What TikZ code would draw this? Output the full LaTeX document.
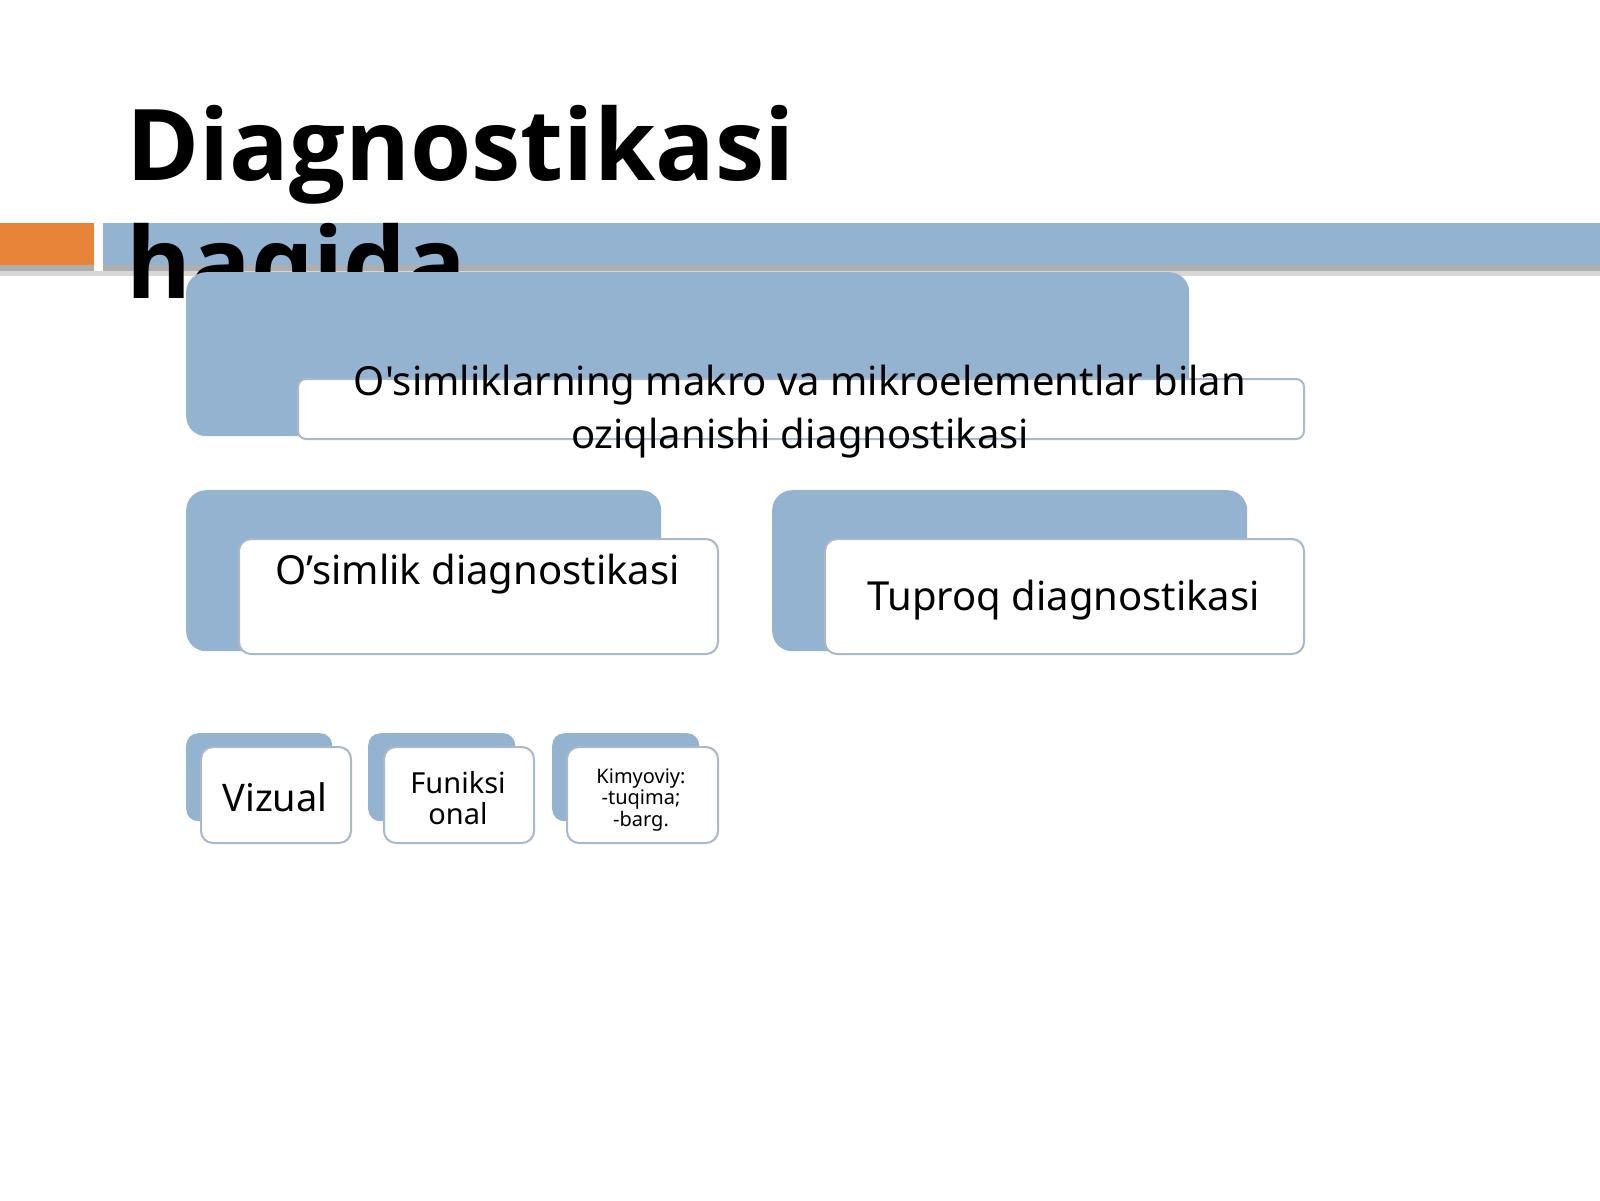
\documentclass[tikz,border=0pt]{standalone}
\usepackage{fontspec}
\setmainfont{Noto Sans}
\newfontfamily\nf{Noto Sans}
\newfontfamily\titlefont{Open Sans}
\definecolor{barblue}{RGB}{148,179,208}
\definecolor{barorange}{RGB}{232,131,58}
\definecolor{edgeblue}{RGB}{170,184,200}
\definecolor{shadowgray}{RGB}{140,140,140}
\tikzset{
  backbox/.style={fill=barblue, draw=none, rounded corners=20pt, inner sep=0pt, anchor=north west},
  smallback/.style={fill=barblue, draw=none, rounded corners=12pt, inner sep=0pt, anchor=north west},
  frontbox/.style={fill=white, draw=edgeblue, line width=2pt, rounded corners=12pt, inner sep=0pt, anchor=north west},
  thinfront/.style={fill=white, draw=edgeblue, line width=2pt, rounded corners=8pt, inner sep=0pt, anchor=north west},
  lbl/.style={inner sep=0pt, anchor=base, text=black},
  ttl/.style={inner sep=0pt, anchor=base west, font=\titlefont\bfseries\fontsize{99}{118}\selectfont},
}
\begin{document}
\begin{tikzpicture}[x=1pt,y=-1pt]
\useasboundingbox (0,0) rectangle (1600,1200);
\fill[white] (0,0) rectangle (1600,1200);
% header bar
\fill[shadowgray!70] (0,265) rectangle (94,272);
\fill[shadowgray!70] (103,265) rectangle (1600,271);
\fill[shadowgray!35] (0,271) rectangle (1600,276);
\node[fill=barorange, inner sep=0pt, minimum width=94pt, minimum height=42pt, anchor=north west] (orange) at (0,223) {};
\node[fill=barblue, inner sep=0pt, minimum width=1497pt, minimum height=42pt, anchor=north west] (bar) at (103,223) {};
% title
\node[ttl] (title1) at (126,180) {Diagnostikasi};
\node[ttl] (title2) at (126,298) {haqida};
% top box
\node[backbox, minimum width=1003pt, minimum height=164pt] (topback) at (186,272) {};
\node[thinfront, minimum width=1006pt, minimum height=60pt] (topfront) at (297,378) {};
\node[lbl, font=\nf\fontsize{40}{53}\selectfont] (toptexta) at (800,395) {O'simliklarning makro va mikroelementlar bilan};
\node[lbl, font=\nf\fontsize{40}{53}\selectfont] (toptextb) at (800,448) {oziqlanishi diagnostikasi};
% second row
\node[backbox, minimum width=475pt, minimum height=161pt] (leftback) at (186,490) {};
\node[frontbox, minimum width=479pt, minimum height=115pt] (leftfront) at (238,538) {};
\node[lbl, font=\nf\fontsize{40}{53}\selectfont] (lefttext) at (477.5,584) {O’simlik diagnostikasi};
\node[backbox, minimum width=475pt, minimum height=161pt] (rightback) at (772,490) {};
\node[frontbox, minimum width=479pt, minimum height=115pt] (rightfront) at (824,538) {};
\node[lbl, font=\nf\fontsize{40}{53}\selectfont] (righttext) at (1063.5,610) {Tuproq diagnostikasi};
% third row
\node[smallback, minimum width=146pt, minimum height=88pt] (vback) at (186,733) {};
\node[frontbox, minimum width=150pt, minimum height=96pt] (vfront) at (200,746) {};
\node[lbl, font=\nf\fontsize{38}{50}\selectfont] (vtext) at (275,811) {Vizual};
\node[smallback, minimum width=147pt, minimum height=88pt] (fback) at (368,733) {};
\node[frontbox, minimum width=150pt, minimum height=96pt] (ffront) at (383,746) {};
\node[lbl, font=\nf\fontsize{29}{31}\selectfont] (ftexta) at (458,793) {Funiksi};
\node[lbl, font=\nf\fontsize{29}{31}\selectfont] (ftextb) at (458,824) {onal};
\node[smallback, minimum width=147pt, minimum height=88pt] (kback) at (552,733) {};
\node[frontbox, minimum width=151pt, minimum height=96pt] (kfront) at (566,746) {};
\node[lbl, font=\nf\fontsize{20}{21}\selectfont] (ktexta) at (641,783) {Kimyoviy:};
\node[lbl, font=\nf\fontsize{20}{21}\selectfont] (ktextb) at (641,804) {-tuqima;};
\node[lbl, font=\nf\fontsize{20}{21}\selectfont] (ktextc) at (641,826) {-barg.};
\end{tikzpicture}
\end{document}
